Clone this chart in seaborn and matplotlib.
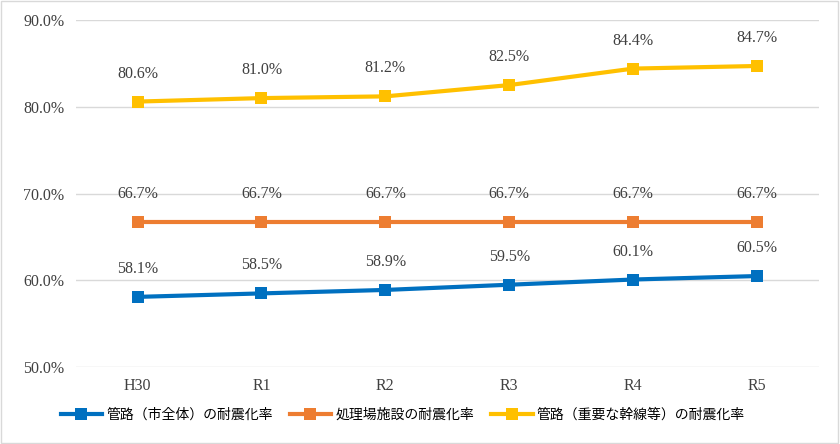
import matplotlib
matplotlib.use("Agg")
import matplotlib.pyplot as plt
import seaborn as sns
import pandas as pd

categories = ["H30", "R1", "R2", "R3", "R4", "R5"]
s_city = [58.1, 58.5, 58.9, 59.5, 60.1, 60.5]
s_plant = [66.7, 66.7, 66.7, 66.7, 66.7, 66.7]
s_trunk = [80.6, 81.0, 81.2, 82.5, 84.4, 84.7]
names = ["管路（市全体）の耐震化率", "処理場施設の耐震化率", "管路（重要な幹線等）の耐震化率"]
colors = ["#0070C0", "#ED7D31", "#FFC000"]

rows = []
for n, vals in zip(names, [s_city, s_plant, s_trunk]):
    for i, (c, v) in enumerate(zip(categories, vals)):
        rows.append({"x": i, "cat": c, "v": v, "series": n})
df = pd.DataFrame(rows)

fig = plt.figure(figsize=(8.4, 4.44), dpi=100)
ax = fig.add_axes([0.090, 0.173, 0.885, 0.782])
sns.lineplot(data=df, x="x", y="v", hue="series", palette=colors, marker="s",
             markersize=8, markeredgewidth=0, linewidth=3, ax=ax, legend=True)
for n, vals in zip(names, [s_city, s_plant, s_trunk]):
    for i, v in enumerate(vals):
        ax.text(i, v + 2.3, f"{v:.1f}%", ha="center", va="bottom",
                fontsize=11.5, family="Liberation Serif", color="#404040")

ax.set_xlim(-0.5, 5.5)
ax.set_ylim(50, 90)
ax.set_yticks([50, 60, 70, 80, 90])
ax.set_yticklabels([f"{t:.1f}%" for t in [50, 60, 70, 80, 90]])
ax.set_xticks(range(6))
ax.set_xticklabels(categories)
for lab in ax.get_xticklabels() + ax.get_yticklabels():
    lab.set_family("Liberation Serif")
    lab.set_fontsize(11.5)
    lab.set_color("#404040")
ax.tick_params(length=0, pad=8)
ax.grid(axis="y", color="#D9D9D9", linewidth=1)
ax.set_axisbelow(True)
for s in ax.spines.values():
    s.set_visible(False)
ax.set_xlabel("")
ax.set_ylabel("")
h, l = ax.get_legend_handles_labels()
ax.legend(h, l, loc="upper center", bbox_to_anchor=(0.44, -0.08), ncol=3,
          frameon=False, prop={"family": "Noto Sans CJK JP", "size": 10},
          handlelength=3, columnspacing=1.2, handletextpad=0.3)
fig.patches.append(plt.Rectangle((0.001, 0.002), 0.997, 0.995, transform=fig.transFigure,
                                 fill=False, edgecolor="#D9D9D9", linewidth=1))
fig.savefig("out.png", dpi=100)
